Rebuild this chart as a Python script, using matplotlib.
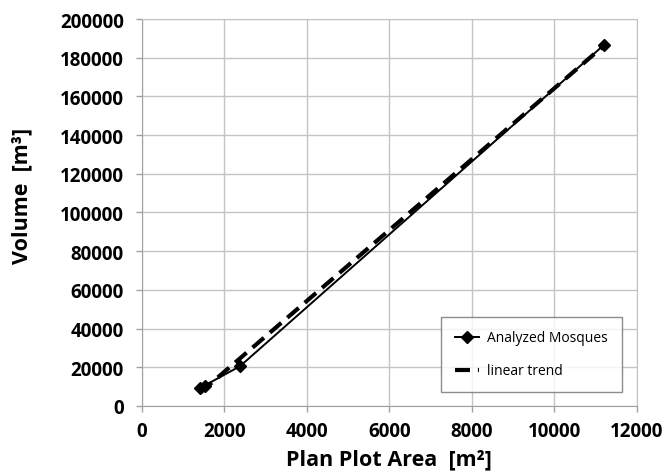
import matplotlib.pyplot as plt
import numpy as np

# data
plot_area = [1420, 1520, 2380, 11200]      # m2
volume = [9000, 10500, 20500, 186500]      # m3

x_ticks = [0, 2000, 4000, 6000, 8000, 10000, 12000]
y_ticks = [0, 20000, 40000, 60000, 80000, 100000, 120000, 140000,
           160000, 180000, 200000]

plt.rcParams['font.family'] = ['Open Sans', 'DejaVu Sans']

fig = plt.figure(figsize=(6.66, 4.77), dpi=100)
ax = fig.add_axes([0.213, 0.147, 0.743, 0.811])

# linear trend fitted to the points
slope, intercept = np.polyfit(plot_area, volume, 1)
xs = np.array([min(plot_area), max(plot_area)])
ax.plot(xs, slope * xs + intercept, color='black', linewidth=3,
        linestyle=(0, (3.6, 1.9)), label='linear trend', zorder=3)
ax.plot(plot_area, volume, color='black', linewidth=1.4, marker='D',
        markersize=6, label='Analyzed Mosques', zorder=4)

ax.set_xlim(0, 12000)
ax.set_ylim(0, 200000)
ax.set_xticks(x_ticks)
ax.set_yticks(y_ticks)
ax.tick_params(labelsize=13.5, length=4, color='#a0a0a0', width=1)
ax.tick_params(axis='y', pad=9)
ax.tick_params(axis='x', pad=7)
for lab in ax.get_xticklabels() + ax.get_yticklabels():
    lab.set_fontweight('bold')

ax.grid(True, color='#c4c4c4', linewidth=1)
ax.set_axisbelow(True)
for sp in ax.spines.values():
    sp.set_color('#c4c4c4')
ax.spines['left'].set_color('#a0a0a0')
ax.spines['bottom'].set_color('#a0a0a0')

ax.set_xlabel('Plan Plot Area  [m²]', fontsize=15.5, fontweight='bold')
ax.set_ylabel('Volume  [m³]', fontsize=15.5, fontweight='bold')
ax.xaxis.set_label_coords(0.5, -0.11)
ax.yaxis.set_label_coords(-0.222, 0.545)

handles, labels = ax.get_legend_handles_labels()
leg = ax.legend(handles[::-1], labels[::-1], loc='lower right',
                bbox_to_anchor=(0.97, 0.035), fontsize=10, frameon=True,
                fancybox=False, edgecolor='#707070', handlelength=1.7,
                borderpad=1.0, labelspacing=1.3, handletextpad=0.6,
                borderaxespad=0)
leg.get_frame().set_linewidth(1)

fig.savefig('out.png', dpi=100)
